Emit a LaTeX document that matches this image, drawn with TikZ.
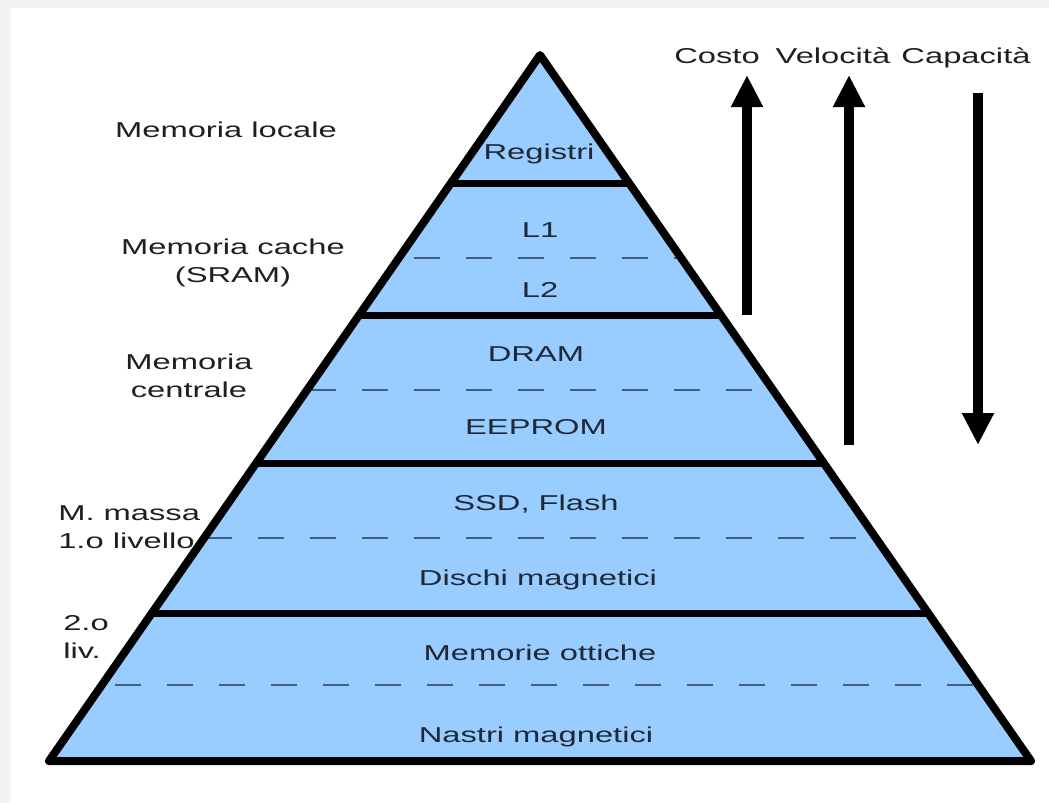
\documentclass[tikz,border=0pt]{standalone}
\usepackage{fontspec}
\setmainfont{Liberation Sans}[FakeStretch=1.52]
\usepackage{xcolor}
\usepackage{tikz}
\usetikzlibrary{arrows.meta}
\definecolor{layerblue}{HTML}{99CCFF}
\definecolor{dashblue}{HTML}{3F5F86}
\definecolor{inktext}{HTML}{1E2836}
\definecolor{pagegray}{HTML}{F2F2F2}

\begin{document}
\begin{tikzpicture}[
    x=0.025cm, y=-0.025cm,
    every node/.style={font=\fontsize{15.3pt}{19.9pt}\selectfont, inner sep=0pt},
    layer/.style={anchor=base, text=inktext},
    side/.style={anchor=base, align=center, text=black!88},
    level line/.style={line width=0.175cm},
    sublevel line/.style={draw=dashblue, line width=1.1pt, dash pattern=on 0.65cm off 0.65cm},
    trend/.style={line width=0.25cm, -{Triangle[length=0.8cm, width=0.75cm]}}
]

\useasboundingbox (0,0) rectangle (1049,803);
\fill[pagegray] (0,0) rectangle (1049,803);
\fill[white] (11,8) rectangle (1049,803);

% pyramid
\coordinate (apex) at (540,55);
\coordinate (left) at (49,761);
\coordinate (right) at (1031,761);
\fill[layerblue] (apex) -- (left) -- (right) -- cycle;
\begin{scope}
  \clip (apex) -- (left) -- (right) -- cycle;
  \foreach \y in {183,315,463,613}
    \draw[level line] (0,\y) -- (1049,\y);
  \foreach \y/\x in {258/50,390/50,538/50,685/11}
    \draw[sublevel line] (\x,\y) -- (1049,\y);
\end{scope}
\draw[line width=0.2cm, line join=round] (apex) -- (left) -- (right) -- cycle;

% levels
\node[layer] (registri) at (539,159) {Registri};
\node[layer] (l1) at (540,237) {L1};
\node[layer] (l2) at (540,297) {L2};
\node[layer] (dram) at (536,361) {DRAM};
\node[layer] (eeprom) at (536,434) {EEPROM};
\node[layer] (ssd) at (536,510) {SSD, Flash};
\node[layer] (dischi) at (538,585) {Dischi magnetici};
\node[layer] (ottiche) at (540,660) {Memorie ottiche};
\node[layer] (nastri) at (536,742) {Nastri magnetici};

% groups on the left (base = last line)
\node[side] (locale) at (226,137) {Memoria locale};
\node[side] (cache) at (233,282) {Memoria cache\\(SRAM)};
\node[side] (centrale) at (189,397) {Memoria\\centrale};
\node[side, align=left, anchor=base west] (massa) at (58,548) {M. massa\\1.o livello};
\node[side, align=left, anchor=base west] (secondo) at (63,658) {2.o\\liv.};

% trends
\node[side] (costo) at (717,63) {Costo};
\node[side] (velocita) at (833,63) {Velocità};
\node[side] (capacita) at (966,63) {Capacità};
\coordinate (costo tail) at (747,315);
\coordinate (costo tip) at (747,75);
\coordinate (velocita tail) at (849,445);
\coordinate (velocita tip) at (849,75);
\coordinate (capacita tail) at (978,93);
\coordinate (capacita tip) at (978,445);
\draw[trend] (costo tail) -- (costo tip);
\draw[trend] (velocita tail) -- (velocita tip);
\draw[trend] (capacita tail) -- (capacita tip);

\end{tikzpicture}
\end{document}
